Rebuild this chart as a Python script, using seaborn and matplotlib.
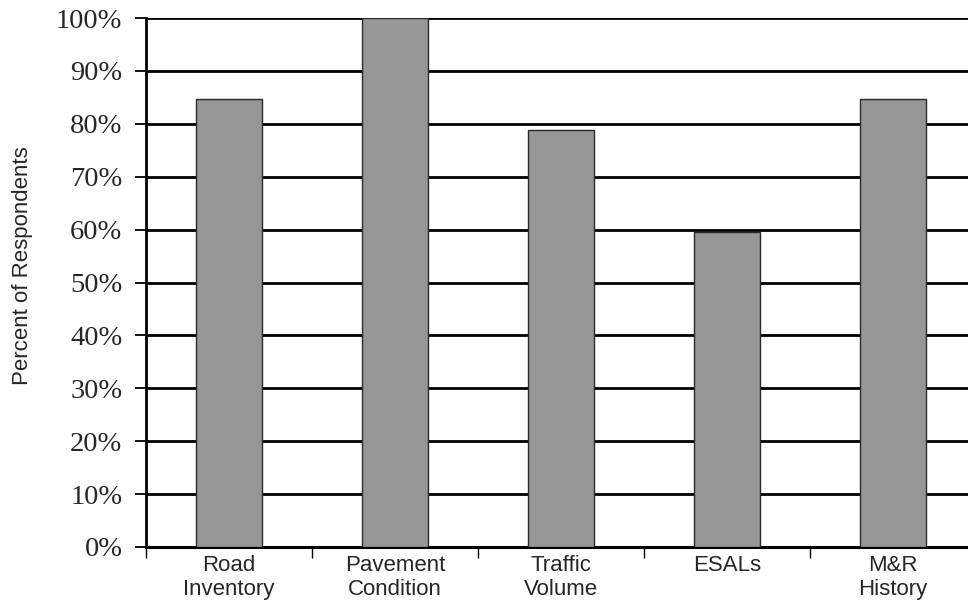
import matplotlib
matplotlib.use("Agg")
import matplotlib.pyplot as plt
import seaborn as sns
import pandas as pd
from matplotlib.ticker import FixedLocator

# Survey results: share of respondents collecting each data item
categories = ["Road\nInventory", "Pavement\nCondition", "Traffic\nVolume", "ESALs", "M&R\nHistory"]
percents = [84.6, 100.0, 78.8, 59.6, 84.6]
y_ticks = [0, 10, 20, 30, 40, 50, 60, 70, 80, 90, 100]
y_tick_labels = [f"{v}%" for v in y_ticks]

df = pd.DataFrame({"item": categories, "pct": percents})

sns.set_style("white")
plt.rcParams["font.family"] = ["Liberation Sans", "DejaVu Sans"]

fig = plt.figure(figsize=(9.68, 6.05), dpi=100)
ax = fig.add_axes([146 / 968, 58 / 605, 830 / 968, 529 / 605])

sns.barplot(data=df, x="item", y="pct", ax=ax, color="#969696",
            saturation=1, width=0.4, edgecolor="#2a2a2a", linewidth=1.0,
            zorder=3)

ax.set_ylim(0, 100)
ax.set_xlim(-0.5, len(categories) - 0.5)

# horizontal gridlines
for v in y_ticks[1:]:
    ax.axhline(v, color="black", lw=2.0, zorder=1)

ax.set_yticks(y_ticks)
ax.set_yticklabels(y_tick_labels, family=["Liberation Serif", "DejaVu Serif"], fontsize=20.5)
ax.tick_params(axis="y", direction="out", length=8, width=1.3, color="black", pad=9, left=True)

ax.set_xticks(range(len(categories)))
ax.set_xticklabels(categories, fontsize=16, linespacing=1.15)
ax.tick_params(axis="x", which="major", length=0, pad=6)
ax.xaxis.set_minor_locator(FixedLocator([i - 0.5 for i in range(len(categories) + 1)]))
ax.tick_params(axis="x", which="minor", direction="out", length=8, width=1.0, color="black", bottom=True)

ax.set_xlabel("")
ax.set_ylabel("Percent of Respondents", fontsize=16, va="center")
ax.yaxis.set_label_coords(-(146 - 23) / 830, (547 - 266) / 529)

for side in ["top", "right"]:
    ax.spines[side].set_visible(False)
ax.spines["left"].set_color("black")
ax.spines["left"].set_linewidth(2.0)
ax.spines["bottom"].set_color("black")
ax.spines["bottom"].set_linewidth(2.2)
ax.spines["left"].set_zorder(4)

fig.savefig("out.png", dpi=100)
